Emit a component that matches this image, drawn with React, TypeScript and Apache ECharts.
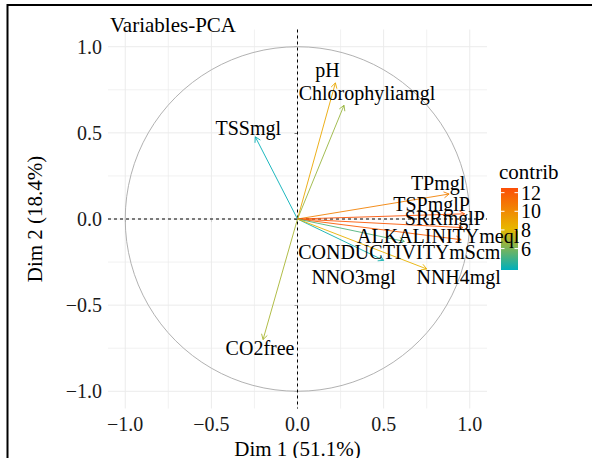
import React, { useEffect, useRef } from 'react';
import * as echarts from 'echarts';

const variables = ['pH', 'Chlorophyliamgl', 'TSSmgl', 'CO2free', 'TPmgl', 'TSPmglP', 'SRRmglP', 'ALKALINITYmeql', 'CONDUCTIVITYmScm', 'NNO3mgl', 'NNH4mgl'];
const dim1 = [0.22, 0.27, -0.245, -0.2, 0.88, 0.97, 0.96, 0.95, 0.62, 0.5, 0.75];
const dim2 = [0.79, 0.66, 0.477, -0.7, 0.145, 0.03, -0.05, -0.12, -0.13, -0.24, -0.29];
const contrib = [8.8, 6.6, 3.8, 6.9, 10.4, 12.3, 12.1, 11.9, 5.2, 4.0, 8.4];
// label displacement (repel) in pixels, relative to arrow tip
const labelOffsets = [[-8, -13], [23, -12], [-7, -9], [-3, 8], [-11, -11], [-33, -10], [-18, -10], [-23, -4], [-5, 11], [-30, 17], [32, 8]];
const axisTicks = [-1, -0.5, 0, 0.5, 1];
const gridValues = [-1, -0.75, -0.5, -0.25, 0, 0.25, 0.5, 0.75, 1];
const legendTicks = [6, 8, 10, 12];
const legendRange = [3.7, 12.5];
const palette = ['#00AFBB', '#E7B800', '#FC4E07'];

const FONT = 'Liberation Serif';
const LIM = 1.1;

const fmt = (v: number) => (v < 0 ? '\u2212' + Math.abs(v).toFixed(1) : v.toFixed(1));

export default function App() {
  const ref = useRef<HTMLDivElement>(null);
  useEffect(() => {
    if (!ref.current) return;
    const chart = echarts.init(ref.current, null, { renderer: 'svg' });
    const data = variables.map((n, i) => [dim1[i], dim2[i], contrib[i], i]);

    // legend geometry
    const barX = 501, barY = 188, barW = 17, barH = 82;
    const vy = (v: number) => barY + ((legendRange[1] - v) / (legendRange[1] - legendRange[0])) * barH;
    const legendEls: any[] = [
      { type: 'text', x: 499, y: 172, style: { text: 'contrib', font: `21px "${FONT}"`, fill: '#000', align: 'left', verticalAlign: 'middle', textAlign: 'left', textVerticalAlign: 'middle' } },
      {
        type: 'rect', shape: { x: barX, y: barY, width: barW, height: barH },
        style: {
          fill: new echarts.graphic.LinearGradient(0, 0, 0, 1, [
            { offset: 0, color: palette[2] },
            { offset: 0.5, color: palette[1] },
            { offset: 1, color: palette[0] },
          ]),
        },
      },
    ];
    legendTicks.forEach((t) => {
      const y = vy(t);
      legendEls.push({ type: 'line', shape: { x1: barX, y1: y, x2: barX + 3.5, y2: y }, style: { stroke: '#fff', lineWidth: 1 } });
      legendEls.push({ type: 'line', shape: { x1: barX + barW - 3.5, y1: y, x2: barX + barW, y2: y }, style: { stroke: '#fff', lineWidth: 1 } });
      legendEls.push({ type: 'text', x: barX + barW + 3, y, style: { text: String(t), font: `20px "${FONT}"`, fill: '#000', align: 'left', verticalAlign: 'middle', textAlign: 'left', textVerticalAlign: 'middle' } });
    });

    const axisLabelStyle = { fontFamily: FONT, fontSize: 20, color: '#1a1a1a' };

    chart.setOption({
      animation: false,
      backgroundColor: '#fff',
      title: {
        text: 'Variables-PCA', left: 105, top: 9,
        textStyle: { fontFamily: FONT, fontSize: 21, fontWeight: 'normal', color: '#000' },
      },
      grid: { left: 108, top: 29.5, width: 379, height: 379, containLabel: false, outerBoundsMode: 'none' },
      xAxis: {
        type: 'value', min: -LIM, max: LIM,
        name: 'Dim 1 (51.1%)', nameLocation: 'middle', nameGap: 26,
        nameTextStyle: { fontFamily: FONT, fontSize: 21, color: '#000' },
        axisLine: { show: false },
        axisTick: { show: true, customValues: axisTicks, length: 3, lineStyle: { color: '#333' } },
        axisLabel: { customValues: axisTicks, formatter: fmt, margin: 5, ...axisLabelStyle },
        splitLine: { show: false },
      },
      yAxis: {
        type: 'value', min: -LIM, max: LIM,
        name: 'Dim 2 (18.4%)', nameLocation: 'middle', nameGap: 63,
        nameTextStyle: { fontFamily: FONT, fontSize: 21, color: '#000' },
        axisLine: { show: false },
        axisTick: { show: true, customValues: axisTicks, length: 3, lineStyle: { color: '#333' } },
        axisLabel: { customValues: axisTicks, formatter: fmt, margin: 6, ...axisLabelStyle },
        splitLine: { show: false },
      },
      visualMap: {
        show: false, type: 'continuous', seriesIndex: 1, dimension: 2,
        min: legendRange[0], max: legendRange[1],
        inRange: { color: palette },
      },
      graphic: [
        { type: 'rect', shape: { x: 7.5, y: 5, width: 700, height: 700 }, style: { fill: 'none', stroke: '#000', lineWidth: 2 }, silent: true },
        ...legendEls,
      ],
      series: [
        {
          type: 'custom', silent: true, z: 1,
          data: [[0, 0]],
          renderItem: (params: any, api: any) => {
            const children: any[] = [];
            const lo = api.coord([-LIM, -LIM]);
            const hi = api.coord([LIM, LIM]);
            gridValues.forEach((v) => {
              const major = axisTicks.includes(v);
              const px = api.coord([v, 0])[0];
              const py = api.coord([0, v])[1];
              const st = { stroke: '#EBEBEB', lineWidth: major ? 1 : 0.7 };
              children.push({ type: 'line', shape: { x1: px, y1: hi[1], x2: px, y2: lo[1] }, style: st });
              children.push({ type: 'line', shape: { x1: lo[0], y1: py, x2: hi[0], y2: py }, style: st });
            });
            const c = api.coord([0, 0]);
            const r = api.size([1, 1]);
            children.push({ type: 'circle', shape: { cx: c[0], cy: c[1], r: r[0] }, style: { fill: 'none', stroke: '#A8A8A8', lineWidth: 0.9 } });
            const dash = { stroke: '#000', lineWidth: 1, lineDash: [3, 3] };
            children.push({ type: 'line', shape: { x1: lo[0], y1: c[1], x2: hi[0], y2: c[1] }, style: dash });
            children.push({ type: 'line', shape: { x1: c[0], y1: hi[1], x2: c[0], y2: lo[1] }, style: dash });
            return { type: 'group', children };
          },
        },
        {
          type: 'custom', silent: true, z: 2,
          data,
          encode: { x: 0, y: 1 },
          renderItem: (params: any, api: any) => {
            const o = api.coord([0, 0]);
            const p = api.coord([api.value(0), api.value(1)]);
            const color = api.visual('color');
            const ang = Math.atan2(p[1] - o[1], p[0] - o[0]);
            const L = 6, a = Math.PI / 6;
            const h1 = [p[0] - L * Math.cos(ang - a), p[1] - L * Math.sin(ang - a)];
            const h2 = [p[0] - L * Math.cos(ang + a), p[1] - L * Math.sin(ang + a)];
            return {
              type: 'group',
              children: [
                { type: 'line', shape: { x1: o[0], y1: o[1], x2: p[0], y2: p[1] }, style: { stroke: color, lineWidth: 0.9 } },
                { type: 'polyline', shape: { points: [h1, p, h2] }, style: { stroke: color, fill: 'none', lineWidth: 0.9 } },
              ],
            };
          },
        },
        {
          type: 'custom', silent: true, z: 3,
          data,
          encode: { x: 0, y: 1 },
          renderItem: (params: any, api: any) => {
            const i = api.value(3);
            const p = api.coord([api.value(0), api.value(1)]);
            const off = labelOffsets[i];
            return {
              type: 'text',
              x: p[0] + off[0], y: p[1] + off[1],
              style: {
                text: variables[i], font: `20px "${FONT}"`, fill: '#000',
                align: 'center', verticalAlign: 'middle', textAlign: 'center', textVerticalAlign: 'middle',
              },
            };
          },
        },
      ],
    });
    return () => chart.dispose();
  }, []);
  return <div ref={ref} style={{ position: 'fixed', left: 0, top: 0, width: 592, height: 458 }} />;
}
